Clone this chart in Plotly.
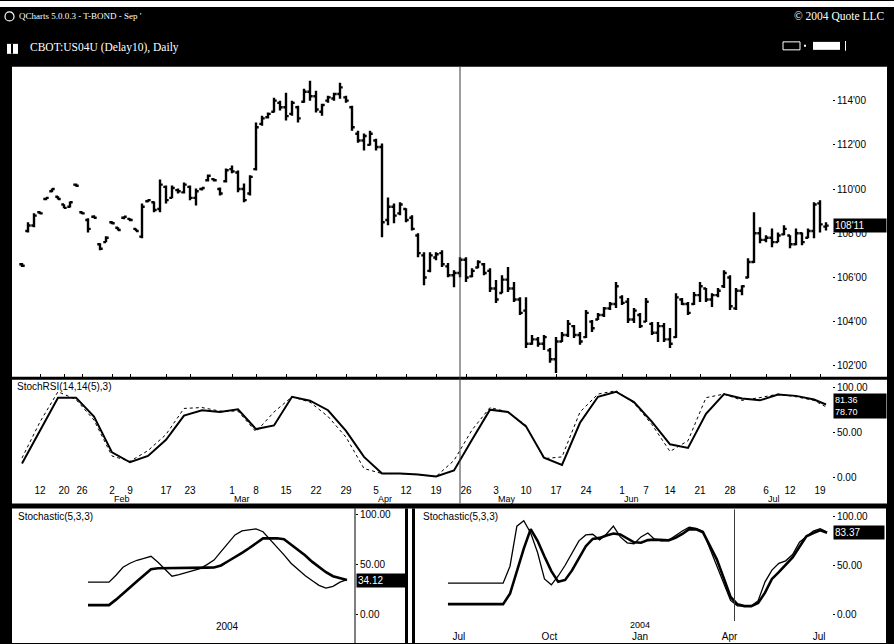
import plotly.graph_objects as go
import pandas as pd

W, H = 894, 644

# ---- daily T-bond (Sep contract) bars, one entry per trading day ----
OPEN = [106.60, 108.10, 108.35, 108.95, 109.55, 109.90, 109.65, 109.30, 109.20, 110.20,
        108.95, 108.60, 108.75, 107.50, 107.60, 108.50, 108.25, 108.70, 108.65, 108.20,
        107.85, 109.45, 109.40, 109.10, 110.10, 109.60, 109.95, 109.85, 110.10, 109.60,
        110.00, 110.40, 110.45, 110.00, 110.35, 110.90, 110.75, 110.00, 109.80, 110.90,
        112.95, 113.25, 113.50, 113.90, 113.70, 113.40, 113.70, 113.95, 114.40, 114.20,
        113.50, 114.00, 114.10, 114.30, 114.15, 113.70, 112.50, 112.20, 112.00, 112.20,
        111.90, 108.60, 109.20, 108.90, 109.10, 108.70, 107.90, 107.00, 106.30, 106.90,
        107.10, 106.50, 106.10, 106.20, 106.80, 106.05, 106.45, 106.60, 106.30, 105.50,
        105.30, 105.90, 105.50, 105.00, 104.50, 103.00, 103.20, 103.00, 102.70, 102.30,
        103.10, 103.40, 103.80, 103.40, 103.30, 104.00, 104.10, 104.30, 104.60, 104.80,
        105.10, 104.90, 104.10, 104.30, 104.00, 103.90, 103.50, 103.80, 103.20, 103.30,
        105.00, 104.80, 104.80, 105.20, 105.50, 105.00, 105.20, 105.60, 106.00, 104.60,
        105.40, 106.00, 106.70, 108.00, 107.70, 107.80, 107.60, 107.95, 107.90, 107.50,
        108.00, 107.80, 108.10, 109.35, 108.30]
HIGH = [106.66, 108.50, 108.90, 108.99, 109.62, 110.03, 109.67, 109.31, 109.44, 110.25,
        108.99, 108.68, 108.81, 107.55, 107.86, 108.54, 108.27, 108.77, 108.68, 108.22,
        109.35, 109.53, 109.44, 110.43, 110.16, 110.16, 110.03, 110.30, 110.16, 110.03,
        110.07, 110.66, 110.48, 110.07, 110.93, 111.07, 110.84, 110.25, 110.62, 113.01,
        113.32, 113.46, 114.13, 114.00, 114.36, 114.00, 113.77, 114.54, 114.90, 114.45,
        113.86, 114.22, 114.36, 114.81, 114.22, 113.77, 112.64, 112.51, 112.64, 112.28,
        112.06, 109.62, 109.35, 109.40, 109.13, 108.81, 108.00, 107.14, 107.14, 107.14,
        107.23, 106.65, 106.33, 106.92, 106.92, 106.42, 106.78, 106.65, 106.42, 105.88,
        106.10, 106.47, 105.79, 105.11, 105.11, 103.40, 103.31, 103.40, 102.81, 103.31,
        103.53, 104.07, 103.85, 103.53, 104.53, 104.07, 104.39, 104.66, 104.89, 105.79,
        105.20, 105.07, 104.62, 104.39, 105.07, 103.98, 103.98, 103.94, 103.71, 105.29,
        105.07, 104.89, 105.34, 105.79, 105.52, 105.29, 105.52, 106.33, 106.10, 105.52,
        105.65, 106.87, 108.95, 108.27, 107.91, 108.22, 108.04, 108.36, 107.91, 108.22,
        108.04, 108.22, 109.40, 109.49, 108.50]
LOW = [106.47, 108.04, 108.27, 108.86, 109.49, 109.85, 109.53, 109.13, 109.17, 110.12,
       108.86, 108.04, 108.68, 107.23, 107.59, 108.41, 108.13, 108.63, 108.54, 108.09,
       107.77, 109.40, 108.95, 108.95, 109.35, 109.58, 109.80, 109.80, 109.49, 109.26,
       109.94, 110.34, 110.34, 109.71, 110.30, 110.71, 109.85, 109.40, 109.71, 110.84,
       112.87, 113.19, 113.46, 113.55, 113.10, 113.32, 113.01, 113.91, 114.00, 113.46,
       113.32, 113.91, 114.00, 114.09, 113.91, 112.64, 112.10, 111.74, 111.97, 111.74,
       107.82, 108.36, 108.45, 108.81, 108.50, 108.13, 106.92, 105.65, 106.24, 106.78,
       106.47, 106.01, 105.56, 106.01, 105.79, 106.01, 106.42, 106.10, 105.34, 104.84,
       105.29, 105.34, 104.89, 104.30, 102.81, 102.95, 102.86, 102.72, 102.14, 101.68,
       103.08, 103.31, 103.26, 102.95, 103.26, 103.53, 104.07, 104.21, 104.53, 104.62,
       104.75, 103.94, 103.94, 103.71, 103.98, 103.40, 103.08, 103.08, 102.81, 103.26,
       104.75, 104.30, 104.75, 104.89, 104.89, 104.66, 105.11, 105.52, 104.53, 104.53,
       105.20, 105.97, 106.65, 107.55, 107.59, 107.37, 107.59, 107.91, 107.32, 107.46,
       107.46, 107.77, 107.77, 108.04, 108.13]
CLOSE = [106.53, 108.35, 108.80, 108.90, 109.60, 110.00, 109.55, 109.15, 109.40, 110.15,
         108.90, 108.20, 108.70, 107.30, 107.80, 108.45, 108.15, 108.75, 108.60, 108.10,
         109.20, 109.50, 109.05, 110.20, 109.50, 110.05, 109.90, 110.20, 109.60, 109.90,
         110.05, 110.60, 110.40, 109.80, 110.85, 110.80, 110.00, 109.50, 110.55, 112.80,
         113.20, 113.40, 114.00, 113.70, 113.30, 113.90, 113.20, 114.40, 114.20, 113.60,
         113.80, 114.15, 114.30, 114.60, 114.00, 112.80, 112.20, 112.40, 112.50, 111.90,
         108.50, 109.20, 108.80, 109.30, 108.60, 108.20, 107.10, 106.00, 107.00, 107.05,
         106.60, 106.10, 106.20, 106.80, 106.00, 106.30, 106.70, 106.20, 105.50, 105.00,
         105.90, 105.50, 105.00, 104.40, 103.00, 103.20, 103.00, 103.30, 102.30, 103.10,
         103.40, 103.90, 103.40, 103.10, 104.40, 103.70, 104.30, 104.60, 104.80, 105.60,
         104.85, 104.10, 104.50, 103.80, 104.90, 103.50, 103.80, 103.20, 103.00, 105.10,
         104.80, 104.40, 105.20, 105.60, 105.00, 105.20, 105.40, 106.20, 104.70, 105.40,
         105.60, 106.70, 108.00, 107.70, 107.80, 107.60, 107.90, 108.20, 107.50, 108.00,
         107.60, 108.10, 109.30, 108.40, 108.34375]

# date labels along the daily axis (bar index of each label)
DAY_TICK_IDX = [3, 7, 10, 15, 18, 24, 28, 35, 39, 44, 49, 54, 59, 64, 69, 74, 79, 84,
                89, 94, 100, 104, 108, 113, 118, 124, 128, 133]
DAY_TICK_TEXT = ["12", "20", "26", "2", "9", "17", "23", "1", "8", "15", "22", "29",
                 "5", "12", "19", "26", "3", "10", "17", "24", "1", "7", "14", "21",
                 "28", "6", "12", "19"]
MONTH_IDX = [15, 35, 59, 79, 100, 124]
MONTH_TEXT = ["Feb", "Mar", "Apr", "May", "Jun", "Jul"]

PRICE_TICKS = [102, 104, 106, 108, 110, 112, 114]
CURSOR_BAR = 73

# ---- StochRSI on the daily bars ----
RSI_IDX = list(range(0, 133, 3)) + [134]
RSI_K = [15.6, 52, 89, 89, 68, 28, 17, 24, 42, 69, 75, 73, 76, 54, 58, 90, 85.6, 75, 52, 23,
         4.4, 4.4, 3.3, 1.1, 7.8, 42, 75.6, 73, 57, 22, 14, 61, 90, 95.6, 84, 62, 37, 33, 71,
         93, 88, 86, 92.5, 91, 87, 81.36]
RSI_D = [21.7, 62, 95.6, 87, 64, 24, 18, 30, 48, 77, 78, 74, 74, 51, 73, 90, 84, 68, 45, 10,
         4.4, 4.4, 3.3, 1.1, 19, 53, 78, 73, 58, 21, 23, 73, 93, 96.7, 83, 59, 29, 41, 89,
         93, 86, 89, 93, 90, 86, 78.70]

# ---- weekly stochastics (lower panes) ----
LEFT_WEEKS = pd.date_range("2003-08-15", periods=38, freq="7D")
SL_K = [32, 32, 32, 32, 39, 47, 51, 54, 56, 58, 52, 44.6, 38, 39.6, 41.5, 43, 45.6, 49.6,
        54.2, 62.6, 71, 79.4, 83.5, 84.3, 85.4, 82.6, 75, 68, 59.4, 51, 44.8, 38.6, 33.7,
        28.8, 26, 27.8, 32, 34.5]
SL_D = [9, 9, 9, 9, 14.5, 21, 27, 33, 39, 45, 46, 46, 46, 46, 46, 46, 46.3, 46.6, 46.8,
        48.8, 53, 57, 61.4, 66, 71, 76, 76, 76, 75.2, 70, 64.5, 59, 52.6, 47, 42, 38, 35.7,
        34.12]

RIGHT_WEEKS = pd.date_range("2003-06-20", periods=56, freq="7D")
SR_K = [31.6, 31.6, 31.6, 31.6, 31.6, 31.6, 31.6, 31.6, 31.6, 49, 90, 95.5, 83, 63, 36, 30,
        39, 50, 62, 75, 81, 81.7, 76, 82, 90, 79, 73, 72, 79, 83, 76.5, 75, 75.5, 80.5, 85,
        89, 87.7, 84.7, 66.8, 49, 31, 14, 8.5, 8.2, 8.2, 13.7, 33, 45, 52, 54.5, 61, 73.5,
        79, 85, 87.4, 83.9]
SR_D = [10.2, 10.2, 10.2, 10.2, 10.2, 10.2, 10.2, 10.2, 10.2, 20.8, 45, 67, 87, 75, 59, 44,
        33, 35, 44.7, 57, 69.5, 77, 78, 80.5, 82.5, 81.5, 77.5, 73.5, 73, 75.7, 76.2, 76,
        75.5, 78, 82, 87, 86.7, 83.7, 70, 56, 37, 17.5, 10, 8.2, 8.2, 11.3, 22, 36, 43, 50,
        58, 69, 79.6, 83, 85.7, 83.37]
RIGHT_TICKS = ["2003-07-01", "2003-10-01", "2004-01-01", "2004-04-01", "2004-07-01"]
RIGHT_TICK_TEXT = ["Jul", "Oct", "Jan", "Apr", "Jul"]
RIGHT_CURSOR = "2004-04-06"


def fx(x):
    """screen x pixel -> paper fraction"""
    return x / W


def fy(y):
    """screen y pixel (from top) -> paper fraction"""
    return 1 - y / H


def fmt32(p):
    whole = int(p)
    return f"{whole}'{int(round((p - whole) * 32)):02d}"


SANS = "Liberation Sans"
SERIF = "Liberation Serif"
TICKFONT = dict(family=SANS, size=10, color="black")

fig = go.Figure()

fig.add_trace(go.Ohlc(
    x=list(range(len(CLOSE))), open=OPEN, high=HIGH, low=LOW, close=CLOSE,
    increasing=dict(line=dict(color="black", width=2.4)),
    decreasing=dict(line=dict(color="black", width=2.4)),
    tickwidth=0.45, xaxis="x", yaxis="y", hoverinfo="skip", showlegend=False))

fig.add_trace(go.Scatter(x=RSI_IDX, y=RSI_D, mode="lines", xaxis="x2", yaxis="y2",
                         line=dict(color="black", width=1, dash="dot"), showlegend=False))
fig.add_trace(go.Scatter(x=RSI_IDX, y=RSI_K, mode="lines", xaxis="x2", yaxis="y2",
                         line=dict(color="black", width=2), showlegend=False))

fig.add_trace(go.Scatter(x=LEFT_WEEKS, y=SL_K, mode="lines", xaxis="x3", yaxis="y3",
                         line=dict(color="black", width=1.3), showlegend=False))
fig.add_trace(go.Scatter(x=LEFT_WEEKS, y=SL_D, mode="lines", xaxis="x3", yaxis="y3",
                         line=dict(color="black", width=2.6), showlegend=False))

fig.add_trace(go.Scatter(x=RIGHT_WEEKS, y=SR_K, mode="lines", xaxis="x4", yaxis="y4",
                         line=dict(color="black", width=1.3), showlegend=False))
fig.add_trace(go.Scatter(x=RIGHT_WEEKS, y=SR_D, mode="lines", xaxis="x4", yaxis="y4",
                         line=dict(color="black", width=2.6), showlegend=False))


# price scale: 102 at y=366px, 22.17 px per point
def price_at(ypix):
    return 102 + (366 - ypix) / 22.17


day_range = [-10 / 6, 135]
common_y = dict(side="right", showgrid=False, zeroline=False, ticks="outside", ticklen=2,
                tickcolor="black", tickfont=TICKFONT, fixedrange=True)
common_x = dict(showgrid=False, zeroline=False, fixedrange=True, tickfont=TICKFONT)

fig.update_layout(
    width=W, height=H, autosize=False,
    margin=dict(l=0, r=0, t=0, b=0, pad=0),
    paper_bgcolor="black", plot_bgcolor="rgba(0,0,0,0)",
    showlegend=False, hovermode=False,
    xaxis=dict(domain=[fx(12), fx(832)], range=day_range, anchor="y",
               showticklabels=False, ticks="inside", ticklen=3, tickcolor="black",
               tickvals=DAY_TICK_IDX, rangeslider=dict(visible=False), **common_x),
    yaxis=dict(domain=[fy(377), fy(66)], range=[price_at(377), price_at(66)], anchor="x",
               tickvals=PRICE_TICKS, ticktext=[fmt32(p) for p in PRICE_TICKS], **common_y),
    xaxis2=dict(domain=[fx(12), fx(832)], range=day_range, anchor="y2",
                tickvals=DAY_TICK_IDX, ticktext=DAY_TICK_TEXT, ticks="", **common_x),
    yaxis2=dict(domain=[fy(484), fy(382)], range=[(478 - 484) / 0.9, (478 - 382) / 0.9],
                anchor="x2", tickvals=[0, 50, 100], ticktext=["0.00", "50.00", "100.00"],
                **common_y),
    xaxis3=dict(type="date", domain=[fx(12), fx(355)], range=["2003-05-31", "2004-05-08"],
                anchor="y3", tickvals=["2004-01-01"], ticktext=["2004"], ticks="",
                **common_x),
    yaxis3=dict(domain=[fy(620), fy(510)], range=[-5, 105], anchor="x3",
                tickvals=[0, 50, 100], ticktext=["0.00", "50.00", "100.00"], **common_y),
    xaxis4=dict(type="date", domain=[fx(418), fx(832)],
                range=["2003-05-20 14:00", "2004-07-14"], anchor="y4",
                tickvals=RIGHT_TICKS, ticktext=RIGHT_TICK_TEXT, ticks="", **common_x),
    yaxis4=dict(domain=[fy(630), fy(510)], range=[(615 - 630) / 0.98, (615 - 510) / 0.98],
                anchor="x4", tickvals=[0, 50, 100], ticktext=["0.00", "50.00", "100.00"],
                **common_y),
)


def prect(x0, y0, x1, y1, color, layer="below"):
    return dict(type="rect", xref="paper", yref="paper", x0=fx(x0), x1=fx(x1),
                y0=fy(y1), y1=fy(y0), fillcolor=color, line=dict(width=0), layer=layer)


shapes = [
    prect(0, 0, 894, 6, "white"),
    prect(12, 66, 887, 377, "white"),
    prect(12, 380, 887, 504, "white"),
    prect(12, 509, 886, 644, "white"),
    prect(405, 509, 408, 644, "black", "above"),
    prect(412, 509, 415, 644, "black", "above"),
    dict(type="line", xref="paper", yref="paper", x0=fx(355), x1=fx(355),
         y0=fy(644), y1=fy(509), line=dict(color="black", width=1)),
    # crosshair through the daily panes
    dict(type="line", xref="x", yref="paper", x0=CURSOR_BAR, x1=CURSOR_BAR,
         y0=fy(504), y1=fy(66), line=dict(color="#3a3a3a", width=1)),
    # crosshair in the weekly pane
    dict(type="line", xref="x4", yref="paper", x0=RIGHT_CURSOR, x1=RIGHT_CURSOR,
         y0=fy(622), y1=fy(510), line=dict(color="#3a3a3a", width=1)),
    # window icons and toolbar
    dict(type="circle", xref="paper", yref="paper", x0=fx(5), x1=fx(14), y0=fy(20),
         y1=fy(11), line=dict(color="white", width=1.2)),
    prect(7, 43, 18, 53, "white", "above"),
    prect(11, 43, 13, 53, "black", "above"),
    dict(type="rect", xref="paper", yref="paper", x0=fx(783), x1=fx(800), y0=fy(49),
         y1=fy(41), line=dict(color="white", width=1), fillcolor="black"),
    prect(804, 44, 806, 46, "white", "above"),
    prect(813, 41, 840, 49, "white", "above"),
    prect(845, 40, 846, 50, "white", "above"),
]
fig.update_layout(shapes=shapes)

ann = []


def text(x, y, s, size, color="white", family=SERIF, xanchor="left", **kw):
    ann.append(dict(x=fx(x), y=fy(y), xref="paper", yref="paper", text=s,
                    showarrow=False, xanchor=xanchor, yanchor="middle",
                    font=dict(family=family, size=size, color=color), **kw))


text(17, 15, "QCharts 5.0.0.3 - T-BOND - Sep '", 9)
text(887, 15, "© 2004 Quote LLC", 11.5, xanchor="right")
text(28, 47, "CBOT:US04U (Delay10), Daily", 11.5)
text(15, 387, "StochRSI(14,14(5),3)", 10, color="black", family=SANS)
text(16, 517, "Stochastic(5,3,3)", 10, color="black", family=SANS)
text(421, 517, "Stochastic(5,3,3)", 10, color="black", family=SANS)

# month names under the daily date labels
for idx, m in zip(MONTH_IDX, MONTH_TEXT):
    ann.append(dict(x=idx, y=fy(500), xref="x2", yref="paper", text=m, showarrow=False,
                    xanchor="left", yanchor="middle",
                    font=dict(family=SANS, size=9, color="black")))
# year above January on the weekly axis
ann.append(dict(x="2004-01-01", y=fy(626), xref="x4", yref="paper", text="2004",
                showarrow=False, xanchor="center", yanchor="middle",
                font=dict(family=SANS, size=9, color="black")))


def value_box(x, yref, yval, s, size=10, width=48):
    ann.append(dict(x=fx(x), y=yval, xref="paper", yref=yref, text=s, showarrow=False,
                    xanchor="left", yanchor="middle", align="left", width=width,
                    bgcolor="black", borderpad=1,
                    font=dict(family=SANS, size=size, color="white")))


value_box(833, "y", CLOSE[-1], fmt32(CLOSE[-1]), width=50)
value_box(833, "y2", (RSI_K[-1] + RSI_D[-1]) / 2,
          f"{RSI_K[-1]:.2f}<br>{RSI_D[-1]:.2f}", size=9, width=50)
value_box(356, "y3", SL_D[-1], f"{SL_D[-1]:.2f}", width=48)
value_box(833, "y4", SR_D[-1], f"{SR_D[-1]:.2f}", width=48)

fig.update_layout(annotations=ann)

fig.write_html("out.html")
